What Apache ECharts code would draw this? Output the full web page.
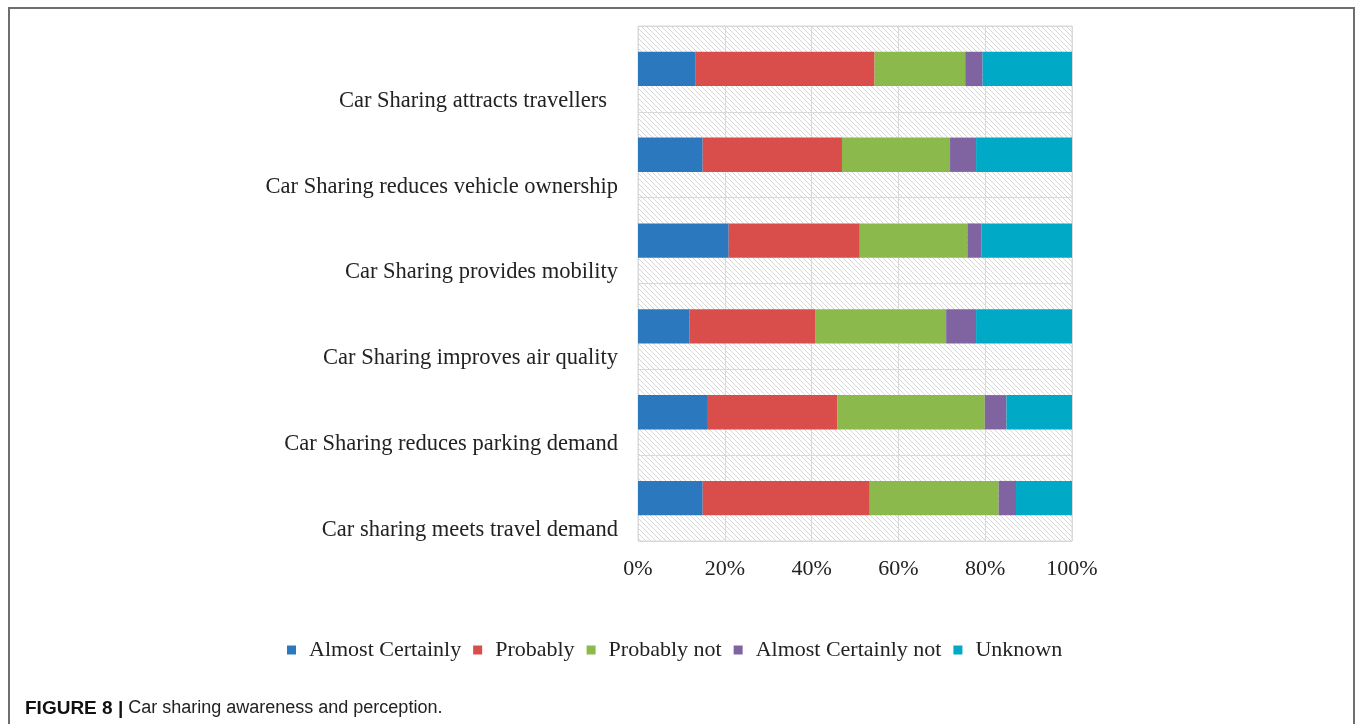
<!DOCTYPE html>
<html>
<head>
<meta charset="utf-8">
<script src="https://cdn.jsdelivr.net/npm/echarts@6/dist/echarts.min.js"></script>
<style>
  html, body { margin: 0; padding: 0; background: #fff; }
  #frame { position: absolute; left: 8px; top: 7px; width: 1343px; height: 760px;
           border: 2px solid #6e6e6e; border-bottom: none; }
  #chart { position: absolute; left: 0; top: 0; width: 1355px; height: 724px; }
</style>
</head>
<body>
<div id="frame"></div>
<div id="chart"></div>
<script>
// Survey statements, listed top to bottom
const statements = [
  'Car Sharing attracts travellers',
  'Car Sharing reduces vehicle ownership',
  'Car Sharing provides mobility',
  'Car Sharing improves air quality',
  'Car Sharing reduces parking demand',
  'Car sharing meets travel demand'
];

// Share of responses (%) per statement
const almostCertainly    = [13.3, 14.9, 20.9, 11.9, 15.9, 14.9];
const probably           = [41.2, 32.1, 30.2, 28.9, 30.0, 38.5];
const probablyNot        = [20.9, 24.9, 24.8, 30.2, 34.0, 29.7];
const almostCertainlyNot = [ 4.0,  6.0,  3.2,  6.9,  5.0,  4.0];
const unknown            = [20.6, 22.1, 20.9, 22.1, 15.1, 12.9];

const seriesNames = ['Almost Certainly', 'Probably', 'Probably not', 'Almost Certainly not', 'Unknown'];
const seriesValues = [almostCertainly, probably, probablyNot, almostCertainlyNot, unknown];
const seriesColors = ['#2b78bf', '#d94d4b', '#8cb94b', '#8064a2', '#00aac6'];

// Diagonal hatch tile for the plot background
function hatchTile() {
  const s = 5;
  const c = document.createElement('canvas');
  c.width = s; c.height = s;
  const g = c.getContext('2d');
  g.fillStyle = '#ffffff';
  g.fillRect(0, 0, s, s);
  g.strokeStyle = '#d6d6d6';
  g.lineWidth = 1;
  g.beginPath();
  g.moveTo(0, 0); g.lineTo(s, s);
  g.moveTo(-1, s - 1); g.lineTo(1, s + 1);
  g.moveTo(s - 1, -1); g.lineTo(s + 1, 1);
  g.stroke();
  return c;
}

const serif = 'Liberation Serif, Times New Roman, serif';
const sans = 'Liberation Sans, Arial, sans-serif';

const chart = echarts.init(document.getElementById('chart'), null, { renderer: 'canvas' });

chart.setOption({
  backgroundColor: 'transparent',
  animation: false,
  title: {
    left: 25,
    top: 699,
    padding: 0,
    text: '{b|FIGURE 8 |} {n|Car sharing awareness and perception.}',
    textStyle: {
      fontWeight: 'normal',
      rich: {
        b: { fontFamily: sans, fontWeight: 'bold', fontSize: 19, color: '#111' },
        n: { fontFamily: sans, fontWeight: 'normal', fontSize: 18, color: '#222' }
      }
    }
  },
  legend: {
    left: 287,
    top: 639,
    padding: 0,
    itemWidth: 9,
    itemHeight: 9,
    itemGap: 12,
    icon: 'rect',
    data: seriesNames,
    textStyle: { fontFamily: serif, fontSize: 22, color: '#222', padding: [0, 0, 0, 8] }
  },
  grid: {
    left: 638,
    right: 283,
    top: 26,
    bottom: 183,
    show: true,
    borderColor: '#d9d9d9',
    borderWidth: 1,
    backgroundColor: { image: hatchTile(), repeat: 'repeat' },
    containLabel: false
  },
  xAxis: {
    type: 'value',
    min: 0,
    max: 100,
    interval: 20,
    axisLine: { show: false },
    axisTick: { show: false },
    splitLine: { lineStyle: { color: '#d9d9d9', width: 1 } },
    axisLabel: {
      formatter: '{value}%',
      fontFamily: serif,
      fontSize: 22,
      color: '#222',
      margin: 17
    }
  },
  yAxis: {
    type: 'category',
    inverse: true,
    data: statements,
    axisLine: { show: false },
    axisTick: { show: false },
    splitLine: { show: true, lineStyle: { color: '#d9d9d9', width: 1 } },
    axisLabel: {
      fontFamily: serif,
      fontSize: 22.5,
      color: '#222',
      margin: 20,
      padding: [64, 0, 0, 0],
      formatter: function (v, i) {
        return i === 0 ? '{t|' + v + '}' : v;
      },
      rich: {
        t: { fontFamily: serif, fontSize: 22.5, color: '#222', padding: [0, 11, 0, 0] }
      }
    }
  },
  series: seriesNames.map(function (name, k) {
    return {
      name: name,
      type: 'bar',
      stack: 'share',
      barWidth: '40%',
      data: seriesValues[k],
      itemStyle: { color: seriesColors[k] }
    };
  })
});
</script>
</body>
</html>
